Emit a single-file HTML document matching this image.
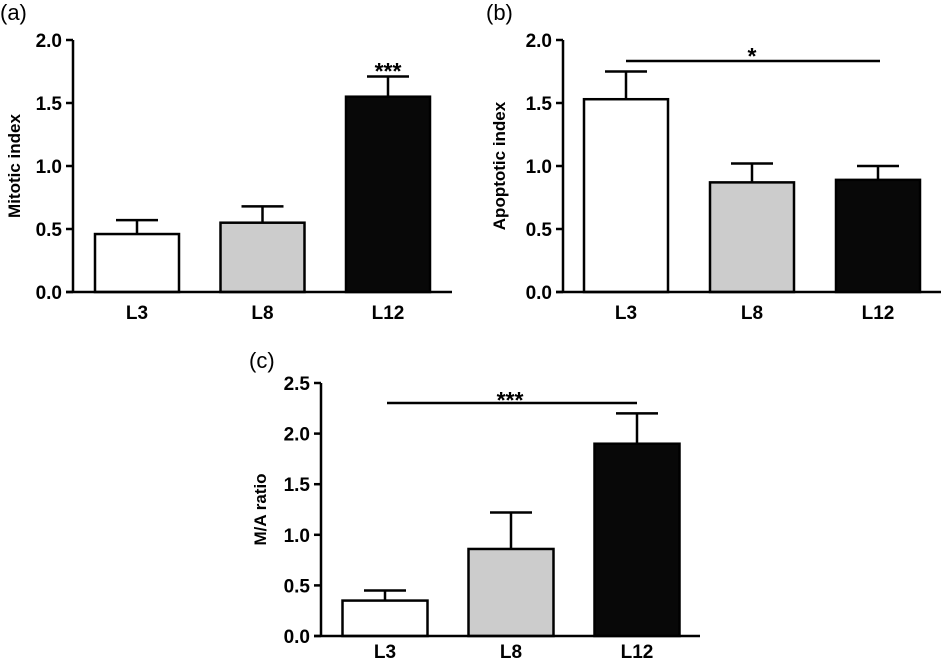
<!DOCTYPE html>
<html><head><meta charset="utf-8"><style>
html,body{margin:0;padding:0;background:#fff;}
svg{display:block;font-family:"Liberation Sans",Arial,sans-serif;}
</style></head><body>
<svg id="fig" width="944" height="662" viewBox="0 0 944 662" xmlns="http://www.w3.org/2000/svg"></svg>
<script>
const categories = ["L3","L8","L12"];
const fills = ["#ffffff","#cccccc","#080808"];
const mitoticMean = [0.46,0.55,1.55];
const mitoticErr = [0.11,0.13,0.16];
const apoptoticMean = [1.53,0.87,0.89];
const apoptoticErr = [0.22,0.15,0.11];
const ratioMean = [0.35,0.86,1.90];
const ratioErr = [0.10,0.36,0.30];
const ticksAB = ["0.0","0.5","1.0","1.5","2.0"];
const ticksC = ["0.0","0.5","1.0","1.5","2.0","2.5"];

const NS="http://www.w3.org/2000/svg";
const svg=document.getElementById('fig');
function mk(tag,attrs,parent){const e=document.createElementNS(NS,tag);for(const k in attrs)e.setAttribute(k,attrs[k]);(parent||svg).appendChild(e);return e;}
const TICKFONT={'font-size':'19px','font-weight':'bold','font-family':'Liberation Sans, Arial, sans-serif'};

function panel(cfg){
  const g=mk('g',{});
  
  
  const ymax=parseFloat(cfg.ticks[cfg.ticks.length-1]);
  const y=v=>cfg.y0-(v/ymax)*(cfg.y0-cfg.ytop);
  const xc=i=>cfg.x0c+i*cfg.step;
  const pl=mk('text',{x:cfg.lx,y:cfg.ly,'font-size':'22px'},g);pl.textContent=cfg.letter;
  
  
  categories.forEach((c,i)=>{
    const m=cfg.mean[i],e=cfg.err[i];
    const eb=mk('line',{x1:xc(i),x2:xc(i),y1:y(m),y2:y(m+e),stroke:'#000','stroke-width':2.5},g);
    
    
    mk('line',{x1:xc(i)-21,x2:xc(i)+21,y1:y(m+e),y2:y(m+e),stroke:'#000','stroke-width':2.5},g);
    const r=mk('rect',{x:xc(i)-cfg.bw/2,y:y(m),width:cfg.bw,height:cfg.y0-y(m),fill:fills[i],stroke:'#000','stroke-width':2.5},g);
    
    
    const t=mk('text',Object.assign({x:xc(i),y:cfg.y0+cfg.xlOff,'text-anchor':'middle'},TICKFONT),g);t.textContent=c;
    
    
  });
  const ya=mk('line',{x1:cfg.ax,x2:cfg.ax,y1:cfg.ytop,y2:cfg.y0+1,stroke:'#000','stroke-width':2.5},g);
  
  
  const xa=mk('line',{x1:cfg.ax-7,x2:cfg.xend,y1:cfg.y0,y2:cfg.y0,stroke:'#000','stroke-width':2.5},g);
  
  
  cfg.ticks.forEach(tk=>{
    const v=parseFloat(tk);
    mk('line',{x1:cfg.ax-7,x2:cfg.ax,y1:y(v),y2:y(v),stroke:'#000','stroke-width':2.5},g);
    const t=mk('text',Object.assign({x:cfg.ax-11,y:y(v)+7,'text-anchor':'end'},TICKFONT),g);t.textContent=tk;
    
    
  });
  const yl=mk('text',{x:0,y:0,'text-anchor':'middle','font-size':'17px','font-weight':'bold',transform:`translate(${cfg.ylx},${(cfg.y0+cfg.ytop)/2}) rotate(-90)`},g);
  yl.textContent=cfg.ylabel;
  
  
  if(cfg.sig){
    if(cfg.sig.line){
      const sl=mk('line',{x1:cfg.sig.x1,x2:cfg.sig.x2,y1:cfg.sig.y,y2:cfg.sig.y,stroke:'#000','stroke-width':2.5},g);
      
      
    }
    const st=mk('text',{x:cfg.sig.tx,y:cfg.sig.ty,'text-anchor':'middle','font-size':'23px','font-weight':'bold'},g);st.textContent=cfg.sig.text;
    
    
  }
}
panel({name:'panel-a-mitotic',letter:'(a)',lx:0,ly:20,ax:73,xend:452,y0:292,ytop:40,x0c:137,step:125.5,bw:84,xlOff:27,
  mean:mitoticMean,err:mitoticErr,ticks:ticksAB,ylabel:'Mitotic index',ylx:20,
  sig:{line:false,text:'***',tx:388,ty:79}});
panel({name:'panel-b-apoptotic',letter:'(b)',lx:486,ly:20,ax:563,xend:941,y0:292,ytop:40,x0c:626,step:126,bw:84,xlOff:27,
  mean:apoptoticMean,err:apoptoticErr,ticks:ticksAB,ylabel:'Apoptotic index',ylx:505,
  sig:{line:true,x1:626,x2:880,y:61,text:'*',tx:752,ty:64}});
panel({name:'panel-c-ratio',letter:'(c)',lx:249,ly:368,ax:321,xend:700,y0:636,ytop:383,x0c:385,step:126,bw:85,xlOff:22,
  mean:ratioMean,err:ratioErr,ticks:ticksC,ylabel:'M/A ratio',ylx:266,
  sig:{line:true,x1:387,x2:637,y:403,text:'***',tx:510,ty:408}});
</script>
</body></html>
